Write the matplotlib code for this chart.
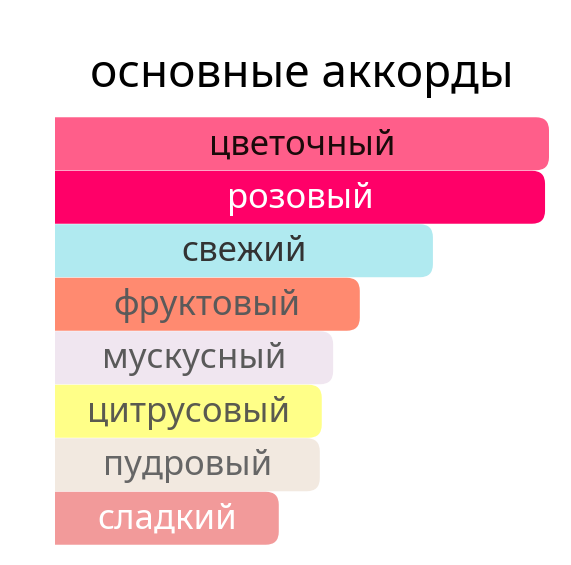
import matplotlib
matplotlib.use("Agg")
import matplotlib.pyplot as plt
from matplotlib.patches import FancyBboxPatch

plt.rcParams['font.family'] = ['Noto Sans', 'DejaVu Sans']

title = "основные аккорды"
accords = ["цветочный", "розовый", "свежий", "фруктовый", "мускусный",
           "цитрусовый", "пудровый", "сладкий"]
values = [100, 99.2, 76.5, 61.7, 56.3, 54.0, 53.6, 45.3]
bar_colors = ["#ff5e8a", "#ff0068", "#b0eaf0", "#ff8a70", "#f0e6f0",
              "#ffff88", "#f2e9e0", "#f29a9a"]
text_colors = ["#1a0a0a", "#ffffff", "#333333", "#5a5a5a", "#5a5a5a",
               "#5a5a50", "#666666", "#ffffff"]

W, H = 571, 565
fig = plt.figure(figsize=(W / 100, H / 100), dpi=100)
ax = fig.add_axes([55 / W, 1 - 545 / H, (549 - 55) / W, (545 - 117) / H])
ax.set_xlim(0, 100)
ax.set_ylim(len(accords) - 0.5, -0.5)
ax.axis("off")

# corner radius in px, converted into data units on each axis
px_x = 100 / (549 - 55)
px_y = len(accords) / (545 - 117)
r = 13 * px_x
aspect = px_y / px_x

bar_h = 0.99
for i, (name, v) in enumerate(zip(accords, values)):
    # start left of the axes so the left corners get clipped off
    patch = FancyBboxPatch((-10, i - bar_h / 2), v + 10, bar_h,
                           boxstyle=f"round,pad=0,rounding_size={r}",
                           mutation_aspect=aspect,
                           facecolor=bar_colors[i], edgecolor="none")
    ax.add_patch(patch)
    ax.text(v / 2, i + 0.03, name, ha="center", va="center",
            fontsize=25, color=text_colors[i])

fig.text((55 + 549) / 2 / W, 1 - 75 / H, title, ha="center", va="center",
         fontsize=33, color="#000000")

fig.savefig("out.png", dpi=100)
